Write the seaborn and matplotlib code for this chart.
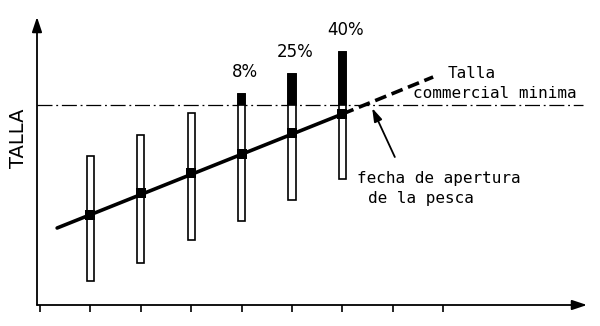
import matplotlib
matplotlib.use("Agg")
import matplotlib.pyplot as plt
import seaborn as sns
import numpy as np

# ---- data (abstract units: time steps on x, size on y) ----
bar_x = [1, 2, 3, 4, 5, 6]
bar_low = [2.4, 4.2, 6.5, 8.4, 10.5, 12.6]
bar_high = [14.9, 17.0, 19.2, 21.1, 23.1, 25.3]
bar_mean = [9.0, 11.2, 13.2, 15.1, 17.2, 19.1]
pct_labels = ["", "", "", "8%", "25%", "40%"]
threshold = 20.0
trend_x = [0.34, 6.0]
trend_y = [7.7, 19.1]
proj_x = [6.0, 7.8]
proj_y = [19.1, 22.8]
xticks = [0, 1, 2, 3, 4, 5, 6, 7, 8]

sns.set_style("white")
plt.rcParams['font.family'] = ['DejaVu Sans']
plt.rcParams['text.color'] = 'black'

fig = plt.figure(figsize=(6.0, 3.26), dpi=100)
ax = fig.add_axes([37/600, 21/326, 550/600, 288/326])
ax.set_xlim(-0.0595, 10.853)
ax.set_ylim(0, 28.8)
for s in ax.spines.values():
    s.set_visible(False)

# axes with arrows
ax.annotate("", xy=(0, 1.0), xytext=(0, 0), xycoords='axes fraction',
            arrowprops=dict(arrowstyle='-|>,head_length=0.9,head_width=0.3',
                            lw=1.3, color='k', shrinkA=0, shrinkB=0))
ax.annotate("", xy=(1.0, 0), xytext=(0, 0), xycoords='axes fraction',
            arrowprops=dict(arrowstyle='-|>,head_length=0.9,head_width=0.3',
                            lw=1.3, color='k', shrinkA=0, shrinkB=0))
ax.set_xticks(xticks)
ax.set_yticks([])
ax.tick_params(axis='x', bottom=True, length=5, width=1.2, direction='out',
               labelbottom=False, color='k')

# threshold (minimum commercial size)
ax.plot([-0.06, 10.77], [threshold, threshold], color='k', lw=0.9,
        linestyle=(0, (12, 3, 1.5, 3)), zorder=2)

# size range bars
bx = np.array(bar_x)
lo = np.array(bar_low)
hi = np.array(bar_high)
ax.bar(bx, hi - lo, bottom=lo, width=0.14, facecolor='white',
       edgecolor='black', lw=1.2, zorder=3)
above = hi > threshold
ax.bar(bx[above], hi[above] - threshold, bottom=threshold, width=0.14,
       facecolor='black', edgecolor='black', lw=1.2, zorder=3)

# growth line
sns.lineplot(x=trend_x, y=trend_y, color='k', lw=2.6, ax=ax, zorder=4)
sns.lineplot(x=proj_x, y=proj_y, color='k', lw=2.6, ax=ax, zorder=4,
             linestyle=(0, (3.3, 1.6)))
ax.scatter(bar_x, bar_mean, marker='s', s=60, color='k', zorder=5, linewidths=0)

# percentage labels
for x, h, lab in zip(bar_x, bar_high, pct_labels):
    if lab:
        ax.text(x + 0.07, h + 1.3, lab, ha='center', va='bottom', fontsize=12,
                color='k')

mono = 'DejaVu Sans Mono'
ax.text(8.08, 23.2, "Talla", ha='left', va='center', fontsize=11.5, family=mono, color='k')
ax.text(7.40, 21.2, "commercial minima", ha='left', va='center', fontsize=11.5, family=mono, color='k')
ax.text(6.29, 12.7, "fecha de apertura", ha='left', va='center', fontsize=11.5, family=mono, color='k')
ax.text(6.51, 10.7, "de la pesca", ha='left', va='center', fontsize=11.5, family=mono, color='k')

ax.annotate("", xy=(6.59, 19.7), xytext=(7.04, 14.8), xycoords='data',
            arrowprops=dict(arrowstyle='-|>,head_length=0.8,head_width=0.25',
                            lw=1.3, color='k', shrinkA=0, shrinkB=0))

fig.text(19/600, 1 - 138/326, "TALLA", rotation=90, ha='center', va='center',
         fontsize=14, color='k')

fig.savefig("out.png", dpi=100)
